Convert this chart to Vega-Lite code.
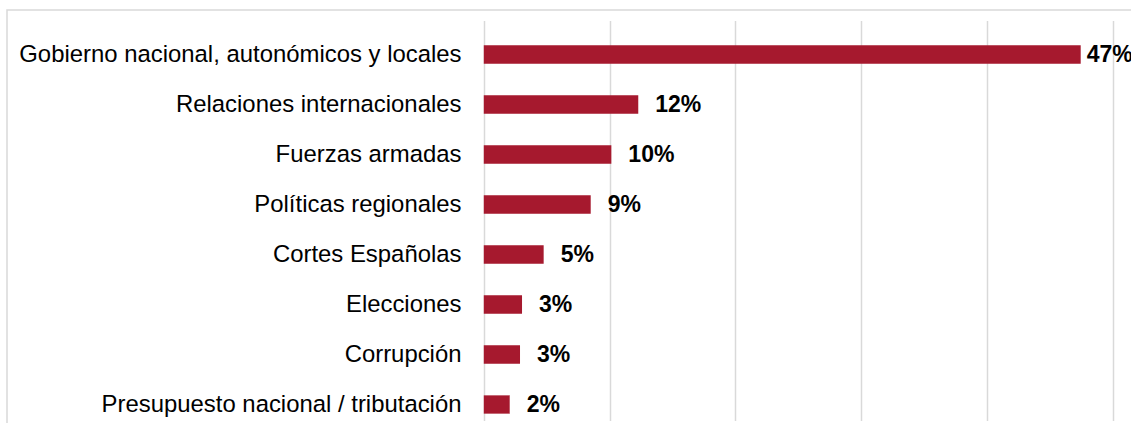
{
  "$schema": "https://vega.github.io/schema/vega-lite/v6.json",
  "width": 1140,
  "height": 430,
  "autosize": "none",
  "padding": {"left": 7, "top": 10, "right": 0, "bottom": 0},
  "background": "white",
  "config": {"view": {"stroke": "#d9d9d9", "strokeWidth": 1.5}},
  "data": {
    "values": [
      {"category": "Gobierno nacional, autonómicos y locales", "value": 47.45, "label": "47%"},
      {"category": "Relaciones internacionales", "value": 12.28, "label": "12%"},
      {"category": "Fuerzas armadas", "value": 10.14, "label": "10%"},
      {"category": "Políticas regionales", "value": 8.5, "label": "9%"},
      {"category": "Cortes Españolas", "value": 4.76, "label": "5%"},
      {"category": "Elecciones", "value": 3.04, "label": "3%"},
      {"category": "Corrupción", "value": 2.88, "label": "3%"},
      {"category": "Presupuesto nacional / tributación", "value": 2.06, "label": "2%"}
    ]
  },
  "encoding": {
    "y": {
      "field": "category",
      "type": "nominal",
      "sort": null,
      "scale": {"range": [19.5, 419.5], "paddingInner": 0.634, "paddingOuter": 0.317},
      "axis": {
        "title": null,
        "domain": false,
        "ticks": false,
        "tickSize": 0,
        "labelPadding": -454,
        "labelLimit": 1000,
        "labelFont": "Liberation Sans",
        "labelFontSize": 23.9,
        "labelColor": "#000000"
      }
    },
    "x": {
      "field": "value",
      "type": "quantitative",
      "scale": {"domain": [-37.9, 52.72], "nice": false},
      "axis": {
        "title": null,
        "values": [0, 10, 20, 30, 40, 50],
        "labels": false,
        "ticks": false,
        "domain": false,
        "grid": true,
        "gridColor": "#d9d9d9",
        "gridWidth": 1.5
      }
    }
  },
  "layer": [
    {
      "mark": {"type": "bar", "color": "#A6192E"},
      "encoding": {"x2": {"datum": 0}}
    },
    {
      "transform": [{"filter": "datum.value < 40"}],
      "mark": {"type": "text", "align": "left", "baseline": "middle", "dx": 17, "font": "Liberation Sans", "fontSize": 23, "fontWeight": "bold", "color": "#000000"},
      "encoding": {"text": {"field": "label"}}
    },
    {
      "transform": [{"filter": "datum.value >= 40"}],
      "mark": {"type": "text", "align": "left", "baseline": "middle", "dx": 6, "font": "Liberation Sans", "fontSize": 23, "fontWeight": "bold", "color": "#000000"},
      "encoding": {"text": {"field": "label"}}
    }
  ]
}
